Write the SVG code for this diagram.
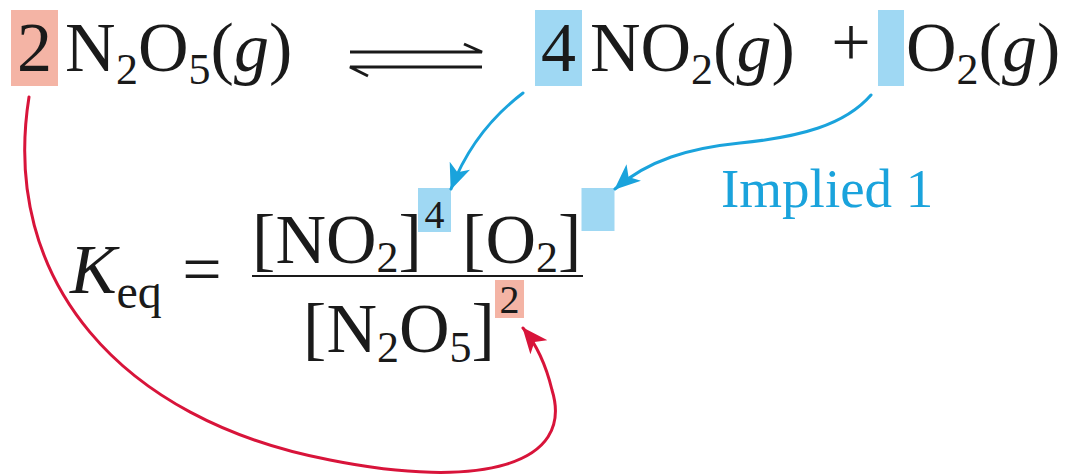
<svg xmlns="http://www.w3.org/2000/svg" width="1065" height="475" viewBox="0 0 1065 475">
<style>
.t{font-family:"Liberation Serif","Times New Roman",serif;font-size:70px;fill:#1a1a1a}
.s{font-family:"Liberation Serif","Times New Roman",serif;font-size:44px;fill:#1a1a1a}
.sup{font-family:"Liberation Serif","Times New Roman",serif;font-size:40px;fill:#1a1a1a}
.i{font-style:italic}
.bb{fill:#9fd8f3}
.rb{fill:#f4b4a5}
.bl{fill:none;stroke:#1aa3dc;stroke-width:3;stroke-linecap:round}
.rd{fill:none;stroke:#d8143a;stroke-width:3;stroke-linecap:round}
.eq{fill:none;stroke:#1a1a1a;stroke-width:3}
</style>
<defs>
<marker id="ab" markerUnits="userSpaceOnUse" markerWidth="26" markerHeight="22" viewBox="0 0 26 22" refX="25" refY="11" orient="auto"><path d="M0,0 L26,11 L0,22 L7,11 z" fill="#1aa3dc"/></marker>
<marker id="ar" markerUnits="userSpaceOnUse" markerWidth="26" markerHeight="22" viewBox="0 0 26 22" refX="25" refY="11" orient="auto"><path d="M0,0 L26,11 L0,22 L7,11 z" fill="#d8143a"/></marker>
</defs>
<g id="reactant">
<rect class="rb" x="11" y="10" width="47" height="76"/>
<text class="t" x="34.5" y="71" text-anchor="middle">2</text>
<text class="t" x="65" y="71">N</text>
<text class="s" x="116" y="84">2</text>
<text class="t" x="138" y="71">O</text>
<text class="s" x="188.5" y="84">5</text>
<text class="t" x="210.5" y="71">(</text>
<text class="t i" x="234" y="71">g</text>
<text class="t" x="269" y="71">)</text>
</g>
<g id="equilibrium-arrow">
<path class="eq" d="M350 52 H482 L464 44"/>
<path class="eq" d="M482 67 H350 L368 76"/>
</g>
<g id="product-no2">
<rect class="bb" x="535" y="10" width="47" height="76"/>
<text class="t" x="558.5" y="71" text-anchor="middle">4</text>
<text class="t" x="590" y="71">N</text>
<text class="t" x="640.5" y="71">O</text>
<text class="s" x="691" y="84">2</text>
<text class="t" x="713" y="71">(</text>
<text class="t i" x="736.5" y="71">g</text>
<text class="t" x="771.5" y="71">)</text>
</g>
<g id="plus">
<text class="t" x="851" y="66" text-anchor="middle">+</text>
</g>
<g id="product-o2">
<rect class="bb" x="878" y="10" width="26" height="76"/>
<text class="t" x="906" y="71">O</text>
<text class="s" x="956.5" y="84">2</text>
<text class="t" x="978.5" y="71">(</text>
<text class="t i" x="1002" y="71">g</text>
<text class="t" x="1037" y="71">)</text>
</g>
<g id="keq">
<text class="t i" x="70" y="293">K</text>
<text class="t" x="116.5" y="308" style="font-size:48px">eq</text>
<text class="t" x="202" y="293" text-anchor="middle">=</text>
</g>
<g id="fraction">
<line x1="252" y1="276" x2="583" y2="276" stroke="#1a1a1a" stroke-width="2"/>
<text class="t" x="252" y="263">[</text>
<text class="t" x="275.5" y="263">N</text>
<text class="t" x="326" y="263">O</text>
<text class="s" x="376.5" y="272">2</text>
<text class="t" x="398.5" y="263">]</text>
<rect class="bb" x="418" y="188" width="33" height="44"/>
<text class="sup" x="434.5" y="228" text-anchor="middle">4</text>
<text class="t" x="462" y="263">[</text>
<text class="t" x="485.5" y="263">O</text>
<text class="s" x="536" y="272">2</text>
<text class="t" x="558" y="263">]</text>
<rect class="bb" x="581.5" y="188" width="33" height="43"/>
<text class="t" x="303" y="352">[</text>
<text class="t" x="326.5" y="352">N</text>
<text class="s" x="377" y="362">2</text>
<text class="t" x="399" y="352">O</text>
<text class="s" x="449.5" y="362">5</text>
<text class="t" x="471.5" y="352">]</text>
<rect class="rb" x="495" y="280" width="29" height="38"/>
<text class="sup" x="509.5" y="313" text-anchor="middle">2</text>
</g>
<g id="implied-label">
<text x="721" y="207" style="font-family:'Liberation Serif','Times New Roman',serif;font-size:55px;fill:#1aa3dc">Implied 1</text>
</g>
<g id="connectors">
<path class="bl" d="M523 93 C490 118 466 150 451 189" marker-end="url(#ab)"/>
<path class="bl" d="M871 95 C845 125 800 137 740 143 C690 148 648 160 615 189" marker-end="url(#ab)"/>
<path class="rd" d="M29 97 C0 280 120 420 330 460 C480 490 575 465 552 390 C546 365 537 345 523 328" marker-end="url(#ar)"/>
</g>
</svg>
